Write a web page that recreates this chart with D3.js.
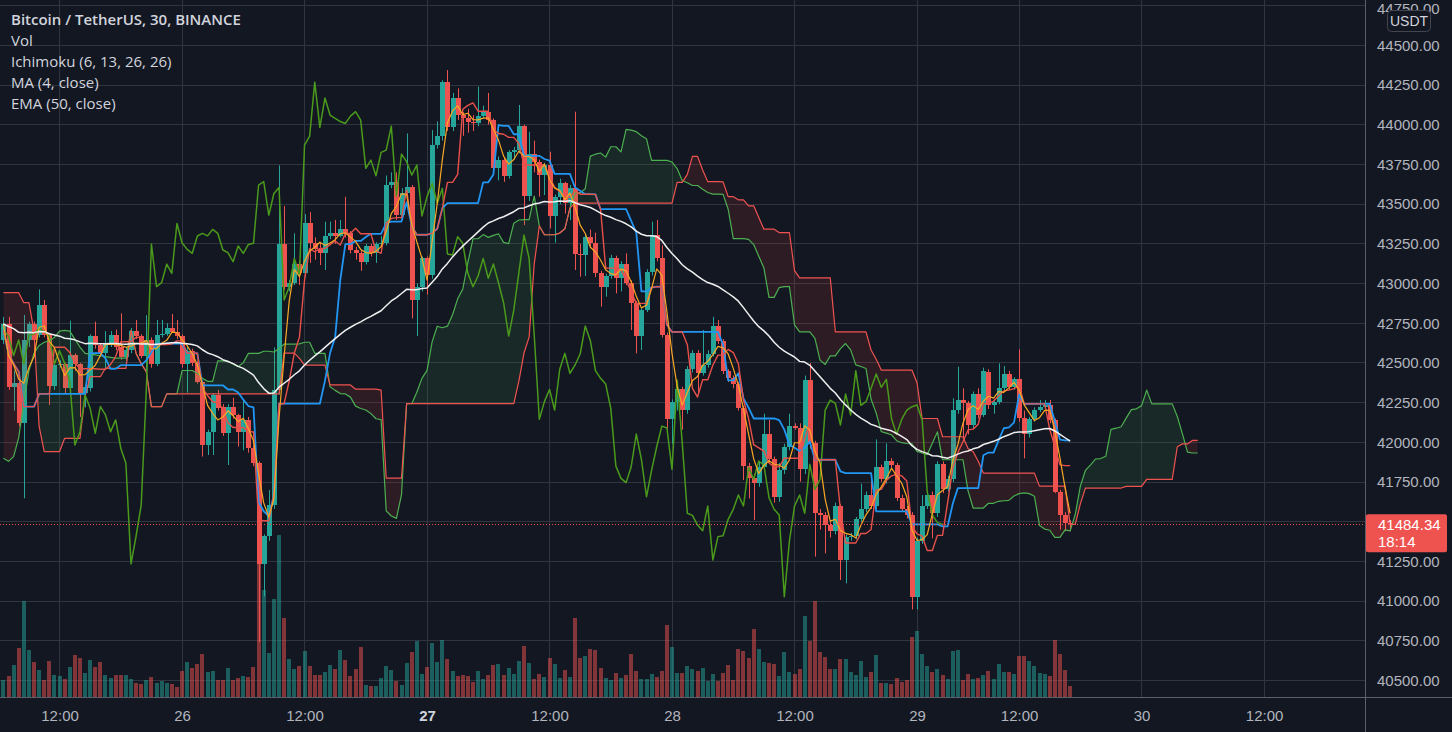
<!DOCTYPE html>
<html>
<head>
<meta charset="utf-8">
<script src="https://cdn.jsdelivr.net/npm/d3@7"></script>
<style>
  html, body { margin: 0; padding: 0; background: #131722; overflow: hidden; }
  svg { display: block; }
  text { font-family: "Liberation Sans", Arial, sans-serif; }
</style>
</head>
<body>
<script>
// BTC/USDT 30m candles (index 0 = first visible bar)
var openP = [
  42644, 42745, 42350, 42371, 42124, 42644, 42745, 42676, 42865, 42682,
  42355, 42487, 42493, 42344, 42550, 42493, 42313, 42344, 42669, 42610,
  42560, 42623, 42676, 42598, 42539, 42581, 42703, 42669, 42546, 42644,
  42493, 42676, 42682, 42718, 42697, 42669, 42493, 42577, 42497, 42382,
  41983, 42067, 42298, 42225, 42057, 42225, 42172, 42067, 42141, 41962,
  41868, 41234, 41410, 41605, 42329, 43248, 42980, 43005, 43122, 43064,
  43378, 43257, 43215, 43190, 43299, 43316, 43300, 43341, 43316, 43211,
  43194, 43137, 43236, 43190, 43246, 43253, 43620, 43641, 43431, 43567,
  43605, 42896, 42980, 43158, 43053, 43872, 43928, 44268, 43983, 44168,
  44061, 44040, 44020, 44008, 44054, 44082, 44029, 43725, 43777, 43679,
  43826, 43840, 43991, 43551, 43815, 43767, 43683, 43746, 43425, 43547,
  43631, 43505, 43599, 43186, 43180, 43295, 43253, 43064, 42980, 43047,
  43158, 43033, 43123, 43005, 42879, 42669, 42833, 43070, 43305, 43158,
  42676, 42145, 42256, 42333, 42203, 42460, 42560, 42434, 42487, 42556,
  42732, 42640, 42451, 42403, 42367, 42214, 41850, 41773, 41746, 41846,
  42052, 41892, 41657, 41825, 41972, 42102, 42090, 41830, 42392, 41998,
  41553, 41540, 41479, 41443, 41599, 41259, 41406, 41412, 41515, 41578,
  41668, 41599, 41842, 41767, 41882, 41857, 41651, 41578, 41542, 41028,
  41378, 41599, 41668, 41553, 41861, 41704, 41767, 42203, 42266, 42245,
  42109, 42304, 42172, 42443, 42233, 42256, 42340, 42430, 42346, 42396,
  42150, 42050, 42144, 42203, 42224, 42235, 42140, 41689, 41542, 41494
];
var highP = [
  42790, 42790, 42450, 42400, 42802, 42760, 42760, 42963, 42896, 42690,
  42500, 42520, 42500, 42766, 42560, 42500, 42360, 42680, 42760, 42620,
  42700, 42700, 42710, 42812, 42600, 42720, 42770, 42680, 42800, 42660,
  42770, 42770, 42750, 42808, 42770, 42680, 42600, 42590, 42510, 42390,
  42080, 42310, 42330, 42240, 42240, 42280, 42180, 42270, 42160, 41980,
  41880, 41420, 41700, 42598, 43744, 43488, 43020, 43316, 43140, 43437,
  43450, 43290, 43260, 43389, 43390, 43400, 43400, 43546, 43330, 43230,
  43210, 43250, 43250, 43260, 43300, 43680, 43700, 43700, 43600, 43945,
  43620, 43000, 43170, 43170, 43966, 44020, 44280, 44344, 44200, 44229,
  44080, 44100, 44060, 44240, 44120, 44200, 44040, 43800, 43790, 43840,
  43860, 44124, 44000, 43956, 43900, 43780, 43760, 43830, 43560, 43660,
  43640, 43620, 44082, 43250, 43310, 43340, 43320, 43080, 43060, 43180,
  43175, 43140, 43190, 43020, 42890, 42850, 43090, 43389, 43400, 43240,
  42690, 42270, 42350, 42350, 42480, 42580, 42580, 42707, 42580, 42790,
  42770, 42650, 42460, 42420, 42380, 42230, 41870, 41800, 41870, 42180,
  42140, 41910, 41870, 41990, 42180, 42120, 42120, 42420, 42500, 42010,
  41580, 41560, 41500, 41620, 41610, 41420, 41430, 41530, 41740, 41690,
  41790, 42018, 41860, 41993, 41900, 41870, 41670, 41600, 41560, 41400,
  41668, 41690, 41690, 41880, 41880, 41790, 42277, 42476, 42340, 42260,
  42320, 42340, 42470, 42460, 42270, 42497, 42480, 42450, 42410, 42585,
  42200, 42160, 42220, 42266, 42266, 42266, 42150, 41700, 41560, 41510
];
var lowP = [
  42620, 42330, 42200, 42100, 41647, 42600, 42539, 42660, 42660, 42235,
  42330, 42470, 42310, 42320, 42450, 42160, 42220, 42320, 42590, 42540,
  42455, 42600, 42580, 42520, 42510, 42560, 42650, 42530, 42430, 42470,
  42480, 42660, 42670, 42690, 42650, 42470, 42313, 42480, 42370, 41910,
  41920, 41920, 42200, 42040, 41857, 42150, 41973, 41950, 41935, 41850,
  40742, 41030, 41380, 41580, 42300, 42960, 42950, 42990, 42990, 43040,
  43130, 43150, 43116, 43085, 43280, 43250, 43290, 43290, 43190, 43150,
  43080, 43120, 43170, 43130, 43230, 43240, 43600, 43400, 43420, 43550,
  42780, 42669, 42950, 42930, 43030, 43850, 43900, 43960, 43960, 44030,
  43930, 43950, 43960, 43990, 44040, 44000, 43700, 43650, 43640, 43660,
  43780, 43820, 43368, 43520, 43700, 43547, 43557, 43347, 43257, 43500,
  43440, 43400, 43085, 43043, 43047, 43230, 43040, 42854, 42917, 43030,
  42938, 42950, 42990, 42707, 42560, 42581, 42820, 43050, 43140, 42660,
  42080, 41990, 42200, 42080, 42180, 42440, 42308, 42420, 42470, 42540,
  42620, 42430, 42380, 42340, 42200, 41762, 41647, 41510, 41720, 41830,
  41870, 41620, 41626, 41800, 41950, 42080, 41752, 41800, 41960, 41280,
  41450, 41301, 41400, 41420, 41133, 41112, 41380, 41390, 41500, 41560,
  41580, 41580, 41750, 41740, 41840, 41630, 41560, 41520, 40948, 40948,
  41360, 41580, 41395, 41530, 41680, 41690, 41750, 42180, 42014, 42050,
  42090, 42150, 42160, 42210, 42180, 42240, 42320, 42330, 42330, 42130,
  41899, 42030, 42130, 42190, 42210, 42120, 41680, 41450, 41440, 41440
];
var closeP = [
  42745, 42350, 42371, 42124, 42644, 42745, 42644, 42865, 42676, 42355,
  42487, 42493, 42344, 42550, 42493, 42313, 42350, 42669, 42610, 42560,
  42627, 42676, 42598, 42539, 42581, 42703, 42669, 42546, 42644, 42493,
  42676, 42682, 42718, 42697, 42669, 42493, 42577, 42497, 42382, 41983,
  42067, 42298, 42214, 42057, 42225, 42172, 42067, 42141, 41962, 41868,
  41234, 41410, 41605, 42329, 43248, 42980, 43005, 43122, 43064, 43378,
  43257, 43215, 43190, 43299, 43316, 43300, 43341, 43316, 43211, 43194,
  43137, 43236, 43190, 43246, 43253, 43620, 43641, 43431, 43567, 43605,
  42896, 42980, 43158, 43053, 43872, 43928, 44268, 43983, 44168, 44061,
  44040, 44020, 44008, 44054, 44082, 44029, 43725, 43777, 43679, 43826,
  43840, 43991, 43551, 43815, 43767, 43683, 43746, 43425, 43547, 43631,
  43505, 43599, 43186, 43180, 43295, 43253, 43064, 42980, 43047, 43158,
  43033, 43123, 43005, 42879, 42669, 42833, 43070, 43305, 43158, 42676,
  42145, 42256, 42333, 42203, 42460, 42560, 42434, 42487, 42556, 42732,
  42640, 42451, 42403, 42367, 42214, 41850, 41773, 41746, 41846, 42052,
  41892, 41657, 41825, 41972, 42102, 42090, 41830, 42392, 41998, 41553,
  41540, 41479, 41443, 41599, 41259, 41406, 41412, 41515, 41578, 41668,
  41599, 41842, 41767, 41882, 41857, 41651, 41578, 41542, 41028, 41378,
  41599, 41668, 41553, 41861, 41704, 41767, 42203, 42266, 42245, 42109,
  42304, 42172, 42451, 42233, 42256, 42340, 42430, 42346, 42396, 42150,
  42050, 42144, 42203, 42224, 42235, 42140, 41689, 41542, 41494, 41484.34
];
var volume = [
  17, 21, 32, 49, 96, 47, 35, 27, 17, 36,
  22, 21, 18, 30, 42, 39, 24, 37, 30, 35,
  22, 19, 22, 22, 22, 18, 14, 13, 17, 20,
  14, 16, 14, 13, 10, 26, 35, 29, 33, 43,
  25, 26, 17, 17, 29, 17, 19, 21, 20, 30,
  150, 107, 44, 98, 162, 79, 38, 28, 31, 46,
  31, 22, 22, 25, 32, 28, 47, 37, 21, 28,
  50, 12, 11, 11, 19, 31, 27, 16, 12, 34,
  45, 56, 23, 30, 54, 35, 57, 38, 26, 21,
  22, 21, 15, 26, 18, 22, 32, 33, 22, 29,
  23, 36, 51, 34, 18, 23, 20, 39, 33, 19,
  27, 20, 79, 39, 41, 48, 47, 29, 19, 17,
  24, 19, 22, 43, 26, 18, 18, 23, 20, 26,
  72, 50, 24, 24, 31, 28, 26, 29, 16, 23,
  16, 24, 32, 17, 48, 46, 39, 68, 48, 35,
  34, 33, 21, 45, 25, 23, 28, 81, 56, 96,
  45, 40, 28, 28, 38, 38, 25, 22, 36, 20,
  25, 42, 14, 14, 13, 19, 15, 17, 60, 66,
  43, 31, 25, 28, 22, 18, 46, 47, 17, 23,
  18, 19, 22, 26, 18, 33, 25, 25, 23, 41,
  41, 36, 31, 24, 23, 21, 57, 43, 27, 11
];
// leading spans already on screen at the left edge (from bars before the first visible one)
var leadAHead = [41900, 41880, 41910, 42030, 42250, 42450, 42560, 42610, 42630, 42640,
  42660, 42700, 42705, 42700, 42650, 42600, 42560, 42555, 42550, 42545,
  42540, 42535, 42530, 42530, 42530];
var leadBHead = [42942, 42942, 42942, 42942, 42879, 42879, 42700, 42100, 41941, 41941,
  41941, 41941, 42025, 42025, 42025, 42025, 42290, 42413, 42413, 42413,
  42466, 42466, 42466, 42466, 42466];

var priceTicks = [40500, 40750, 41000, 41250, 41500, 41750, 42000, 42250, 42500,
  42750, 43000, 43250, 43500, 43750, 44000, 44250, 44500, 44750];
var timeTickIndex = [11, 35, 59, 83, 107, 131, 155, 179, 199, 223, 247];
var timeTickLabel = ["12:00", "26", "12:00", "27", "12:00", "28", "12:00", "29", "12:00", "30", "12:00"];
var legendLines = ["Bitcoin / TetherUS, 30, BINANCE", "Vol", "Ichimoku (6, 13, 26, 26)", "MA (4, close)", "EMA (50, close)"];
var countdown = "18:14";

var W = 1452, H = 732, plotR = 1365, plotB = 697;
var n = closeP.length, shift = 25;
var upCol = "#26a69a", downCol = "#ef5350";

var x = d3.scaleLinear().domain([0, n - 1]).range([3.4, 3.4 + (n - 1) * 5.104]);
var y = d3.scaleLinear().domain([42000, 44500]).range([442.3, 45.3]);
var yv = d3.scaleLinear().domain([0, 170]).range([plotB, plotB - 170]);

// indicators
function midRange(period, i) {
  var lo = Math.max(0, i - period + 1);
  return (d3.max(highP.slice(lo, i + 1)) + d3.min(lowP.slice(lo, i + 1))) / 2;
}
var conv = d3.range(n).map(function(i) { return midRange(6, i); });
var base = d3.range(n).map(function(i) { return midRange(13, i); });
var spanA = leadAHead.concat(d3.range(n).map(function(i) { return (conv[i] + base[i]) / 2; }));
var spanB = leadBHead.concat(d3.range(n).map(function(i) { return midRange(26, i); }));
var cloud = d3.range(spanA.length).map(function(p) { return {p: p, a: spanA[p], b: spanB[p]}; });
var lagging = d3.range(n - shift).map(function(p) { return {p: p, v: closeP[p + shift]}; });
var ma4 = d3.range(n).map(function(i) { return {p: i, v: d3.mean(closeP.slice(Math.max(0, i - 3), i + 1))}; });
var ema = [], k = 2 / 51;
closeP.forEach(function(c, i) { ema.push({p: i, v: i ? c * k + ema[i - 1].v * (1 - k) : c}); });

var svg = d3.select("body").append("svg").attr("width", W).attr("height", H);
var defs = svg.append("defs");
defs.append("clipPath").attr("id", "plot").append("rect")
  .attr("x", 0).attr("y", 0).attr("width", plotR).attr("height", plotB);
defs.append("clipPath").attr("id", "aboveB").append("path")
  .attr("d", d3.area().x(function(d) { return x(d.p); }).y0(0).y1(function(d) { return y(d.b); })(cloud));
defs.append("clipPath").attr("id", "belowB").append("path")
  .attr("d", d3.area().x(function(d) { return x(d.p); }).y0(plotB).y1(function(d) { return y(d.b); })(cloud));

// grid
var grid = svg.append("g").attr("class", "grid").attr("stroke", "#30343f").attr("shape-rendering", "crispEdges");
grid.selectAll("line.h").data(priceTicks).enter().append("line").attr("class", "h")
  .attr("x1", 0).attr("x2", plotR).attr("y1", function(d) { return y(d); }).attr("y2", function(d) { return y(d); });
grid.selectAll("line.v").data(timeTickIndex).enter().append("line").attr("class", "v")
  .attr("x1", function(d) { return x(d); }).attr("x2", function(d) { return x(d); })
  .attr("y1", 0).attr("y2", plotB);

var plot = svg.append("g").attr("clip-path", "url(#plot)");

// volume
plot.append("g").selectAll("rect").data(volume).enter().append("rect")
  .attr("x", function(d, i) { return x(i) - 2; }).attr("width", 4)
  .attr("y", function(d) { return yv(d); }).attr("height", function(d) { return plotB - yv(d); })
  .attr("fill", function(d, i) { return closeP[i] >= openP[i] ? upCol : downCol; })
  .attr("fill-opacity", 0.5).attr("shape-rendering", "crispEdges");

// candles
var candles = plot.append("g").selectAll("g").data(closeP).enter().append("g")
  .attr("fill", function(d, i) { return d >= openP[i] ? upCol : downCol; })
  .attr("stroke", function(d, i) { return d >= openP[i] ? upCol : downCol; });
candles.append("line")
  .attr("x1", function(d, i) { return Math.round(x(i)) + 0.5; }).attr("x2", function(d, i) { return Math.round(x(i)) + 0.5; })
  .attr("y1", function(d, i) { return y(highP[i]); }).attr("y2", function(d, i) { return y(lowP[i]); });
candles.append("rect").attr("stroke", "none").attr("shape-rendering", "crispEdges")
  .attr("x", function(d, i) { return Math.round(x(i)) - 2; }).attr("width", 5)
  .attr("y", function(d, i) { return y(Math.max(d, openP[i])); })
  .attr("height", function(d, i) { return Math.max(1, Math.abs(y(d) - y(openP[i]))); });

// ichimoku cloud
var band = d3.area().x(function(d) { return x(d.p); })
  .y0(function(d) { return y(d.a); }).y1(function(d) { return y(d.b); });
plot.append("path").attr("d", band(cloud)).attr("fill", "#4caf50").attr("fill-opacity", 0.12).attr("clip-path", "url(#aboveB)");
plot.append("path").attr("d", band(cloud)).attr("fill", "#f44336").attr("fill-opacity", 0.12).attr("clip-path", "url(#belowB)");

var line = d3.line().x(function(d) { return x(d.p); }).y(function(d) { return y(d.v); });
function drawLine(data, color, width) {
  plot.append("path").attr("d", line(data)).attr("fill", "none")
    .attr("stroke", color).attr("stroke-width", width).attr("stroke-linejoin", "round");
}
drawLine(cloud.map(function(d) { return {p: d.p, v: d.a}; }), "#4caf50", 1.2);
drawLine(cloud.map(function(d) { return {p: d.p, v: d.b}; }), "#ef5350", 1.2);
drawLine(lagging, "#4a9a1c", 1.5);
drawLine(base.map(function(v, i) { return {p: i, v: v}; }), "#2196f3", 1.8);
drawLine(conv.map(function(v, i) { return {p: i, v: v}; }), "#e8504a", 1.4);
drawLine(ma4, "#f9a825", 1.2);
drawLine(ema, "#f0f0f0", 1.5);

// last price line
var last = closeP[n - 1];
plot.append("line").attr("x1", 0).attr("x2", plotR).attr("y1", Math.round(y(last)) + 0.5).attr("y2", Math.round(y(last)) + 0.5)
  .attr("stroke", downCol).attr("stroke-dasharray", "1,2");

// axes
svg.append("line").attr("x1", plotR + 0.5).attr("x2", plotR + 0.5).attr("y1", 0).attr("y2", H).attr("stroke", "#5d606b");
svg.append("line").attr("x1", 0).attr("x2", W).attr("y1", plotB + 0.5).attr("y2", plotB + 0.5).attr("stroke", "#5d606b");

var yAxis = svg.append("g").attr("transform", "translate(" + (plotR + 12) + ",0)")
  .call(d3.axisRight(y).tickValues(priceTicks).tickFormat(d3.format(".2f")).tickSize(0).tickPadding(0));
var xAxis = svg.append("g").attr("transform", "translate(0," + plotB + ")")
  .call(d3.axisBottom(x).tickValues(timeTickIndex).tickFormat(function(d, i) { return timeTickLabel[i]; }).tickSize(0).tickPadding(13));
[yAxis, xAxis].forEach(function(a) {
  a.select(".domain").remove();
  a.selectAll("text").attr("fill", "#b2b5be").style("font-size", "15px")
    .style("font-family", "'Liberation Sans', Arial, sans-serif");
});
// keep the top price label inside the window
yAxis.selectAll(".tick").filter(function(d) { return y(d) < 9; })
  .attr("transform", function(d) { return "translate(0,9)"; });
xAxis.selectAll("text").filter(function(d, i) { return timeTickLabel[i] === "27"; })
  .style("font-weight", "bold").attr("fill", "#d1d4dc");

// currency badge
svg.append("rect").attr("x", 1387.5).attr("y", 10.5).attr("width", 43).attr("height", 21).attr("rx", 4)
  .attr("fill", "#131722").attr("stroke", "#434651");
svg.append("text").attr("x", 1409).attr("y", 26).attr("text-anchor", "middle")
  .attr("fill", "#d1d4dc").style("font-size", "14px").text("USDT");

// last price badge
var ly = y(last);
svg.append("rect").attr("x", plotR + 1).attr("y", ly - 10).attr("width", 81).attr("height", 38).attr("rx", 2).attr("fill", downCol);
svg.append("text").attr("x", plotR + 13).attr("y", ly + 5.5).attr("fill", "#ffffff").style("font-size", "15px").text(d3.format(".2f")(last));
svg.append("text").attr("x", plotR + 13).attr("y", ly + 23).attr("fill", "#ffffff").style("font-size", "15px").text(countdown);

// legend
svg.append("g").selectAll("text").data(legendLines).enter().append("text")
  .attr("x", 11).attr("y", function(d, i) { return 25 + i * 21; })
  .attr("fill", "#d1d4dc").style("font-size", "15px")
  .style("font-family", "'Open Sans', 'Liberation Sans', sans-serif")
  .style("font-weight", function(d, i) { return i ? "normal" : "600"; })
  .text(function(d) { return d; });
</script>
</body>
</html>
